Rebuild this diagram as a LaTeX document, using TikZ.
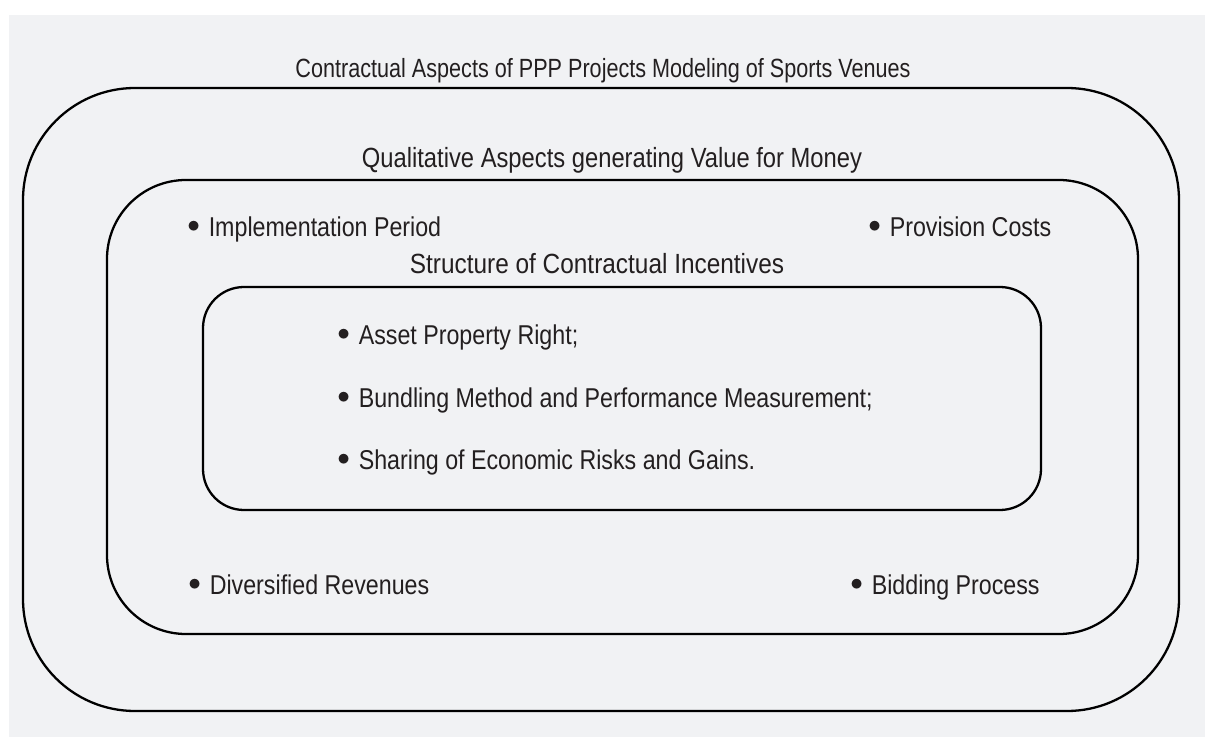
\documentclass[tikz,border=0pt]{standalone}
\usepackage{fontspec}
\setmainfont[FakeStretch=0.82]{Liberation Sans}
\newfontfamily\quallfont[FakeStretch=0.856]{Liberation Sans}
\newfontfamily\structfont[FakeStretch=0.879]{Liberation Sans}
\newfontfamily\itemfont[FakeStretch=0.853]{Liberation Sans}
\usepackage{tikz}
\usetikzlibrary{positioning}
\definecolor{panel}{HTML}{F1F2F4}
\definecolor{ink}{HTML}{231F20}
\newcommand{\dotitem}{\raisebox{0.14em}{$\bullet$}\hspace{5pt}}

\begin{document}
\begin{tikzpicture}[x=0.02cm, y=-0.02cm,
  frame/.style={draw=black, line width=1.3pt},
  heading/.style={anchor=base, inner sep=0pt, text=ink},
  item/.style={anchor=base west, inner sep=0pt, text=ink, font=\itemfont\fontsize{15.5}{18}\selectfont}]
  \useasboundingbox (0,0) rectangle (1205,737);
  \fill[white] (0,0) rectangle (1205,737);
  \fill[panel] (9,15) rectangle (1205,737);

  % nested frames
  \draw[frame, rounded corners=2.24cm] (23,88) rectangle (1179,711);
  \draw[frame, rounded corners=1.58cm] (107,180) rectangle (1138,634);
  \draw[frame, rounded corners=0.82cm] (203,287) rectangle (1041,510);

  % headings
  \node[heading, font=\fontsize{15}{18}\selectfont] (contract) at (603,77) {Contractual Aspects of PPP Projects Modeling of Sports Venues};
  \node[heading, font=\quallfont\fontsize{15.8}{18}\selectfont] (quality) at (612,167) {Qualitative Aspects generating Value for Money};
  \node[heading, font=\structfont\fontsize{15.8}{18}\selectfont] (incent) at (597,273) {Structure of Contractual Incentives};

  % items of the middle frame
  \node[item] (period) at (187,236) {\dotitem Implementation Period};
  \node[item] (costs) at (868,236) {\dotitem Provision Costs};
  \node[item] (revenue) at (188,594) {\dotitem Diversified Revenues};
  \node[item] (bidding) at (850,594) {\dotitem Bidding Process};

  % items of the inner frame
  \node[item] (asset) at (337,344) {\dotitem Asset Property Right;};
  \node[item] (bundle) at (337,407) {\dotitem Bundling Method and Performance Measurement;};
  \node[item] (risk) at (337,469) {\dotitem Sharing of Economic Risks and Gains.};
\end{tikzpicture}
\end{document}
